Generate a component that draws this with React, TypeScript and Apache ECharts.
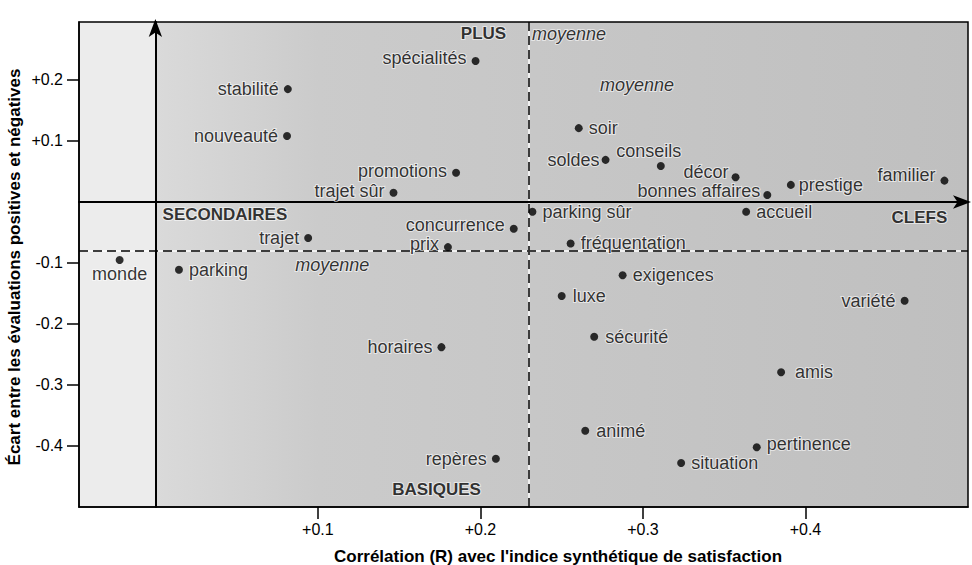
import React, { useEffect, useRef } from "react";
import * as echarts from "echarts";

// ---------- data ----------
const pointNames = [
  "spécialités", "stabilité", "nouveauté", "promotions", "trajet sûr",
  "trajet", "prix", "concurrence", "monde", "parking",
  "horaires", "repères", "soir", "soldes", "conseils",
  "décor", "bonnes affaires", "prestige", "familier", "parking sûr",
  "accueil", "fréquentation", "exigences", "luxe", "variété",
  "sécurité", "amis", "animé", "pertinence", "situation",
];
const correlation = [
  0.197, 0.0815, 0.081, 0.185, 0.1465,
  0.094, 0.18, 0.2205, -0.022, 0.0145,
  0.176, 0.2095, 0.2605, 0.277, 0.311,
  0.357, 0.3765, 0.391, 0.4855, 0.232,
  0.3635, 0.2555, 0.2875, 0.25, 0.461,
  0.27, 0.385, 0.2645, 0.37, 0.3235,
];
const ecart = [
  0.231, 0.185, 0.108, 0.048, 0.015,
  -0.059, -0.074, -0.044, -0.095, -0.111,
  -0.238, -0.421, 0.121, 0.069, 0.059,
  0.0405, 0.0115, 0.028, 0.035, -0.016,
  -0.016, -0.068, -0.12, -0.154, -0.162,
  -0.221, -0.279, -0.375, -0.402, -0.428,
];

const xTicks = [0.1, 0.2, 0.3, 0.4];
const yTicks = [0.2, 0.1, -0.1, -0.2, -0.3, -0.4];

const X_MIN = -0.047;
const X_MAX = 0.5;
const Y_MIN = -0.5;
const Y_MAX = 0.295;

const meanCorrelation = 0.227;
const meanEcart = -0.083;

const annotationTexts = ["moyenne", "moyenne", "moyenne", "PLUS", "SECONDAIRES", "CLEFS", "BASIQUES"];
const annotationX = [0.2545, 0.2963, 0.1088, 0.2019, 0.0428, 0.4701, 0.173];
const annotationY = [0.2754, 0.1918, -0.1033, 0.2762, -0.0202, -0.0251, -0.472];

const xTitle = "Corrélation (R) avec l'indice synthétique de satisfaction";
const yTitle = "Écart entre les évaluations positives et négatives";

// ---------- styles ----------
const FONT = '"Liberation Sans", Arial, Helvetica, sans-serif';

type Place = { position: string; distance?: number; offset?: [number, number] };
const labelPlacement: Record<string, Place> = {
  "spécialités": { position: "left", offset: [0, -3] },
  "stabilité": { position: "left" },
  "nouveauté": { position: "left" },
  "promotions": { position: "left", offset: [0, -2] },
  "trajet sûr": { position: "left", offset: [0, -2] },
  "trajet": { position: "left" },
  "prix": { position: "left", offset: [0, -3] },
  "concurrence": { position: "left", offset: [0, -4] },
  "monde": { position: "bottom", distance: 1 },
  "parking": { position: "right", distance: 6 },
  "horaires": { position: "left" },
  "repères": { position: "left" },
  "soir": { position: "right", distance: 6 },
  "soldes": { position: "left", distance: 2 },
  "conseils": { position: "top", distance: 2, offset: [-12, 0] },
  "décor": { position: "left", distance: 3, offset: [0, -5] },
  "bonnes affaires": { position: "left", distance: 3, offset: [0, -4] },
  "prestige": { position: "right", distance: 4 },
  "familier": { position: "left", offset: [0, -6] },
  "parking sûr": { position: "right", distance: 6 },
  "accueil": { position: "right", distance: 6 },
  "fréquentation": { position: "right", distance: 6 },
  "exigences": { position: "right", distance: 6 },
  "luxe": { position: "right", distance: 7 },
  "variété": { position: "left" },
  "sécurité": { position: "right", distance: 7 },
  "amis": { position: "right", distance: 10 },
  "animé": { position: "right", distance: 7 },
  "pertinence": { position: "right", distance: 6, offset: [0, -3] },
  "situation": { position: "right", distance: 6 },
};

const fmt = (v: number) => (v > 0 ? "+" : "") + v.toFixed(1);

export default function App() {
  const ref = useRef<HTMLDivElement>(null);

  useEffect(() => {
    document.body.style.margin = "0";
    const chart = echarts.init(ref.current as HTMLDivElement, null, { renderer: "svg" });

    const halo = { textBorderColor: "rgba(255,255,255,0.7)", textBorderWidth: 2 };

    const pointData = pointNames.map((n, i) => {
      const p = labelPlacement[n] || { position: "right" };
      return {
        name: n,
        value: [correlation[i], ecart[i]],
        label: {
          position: p.position,
          distance: p.distance ?? 5,
          offset: p.offset ?? [0, 0],
        },
      };
    });

    const annotationData = annotationTexts.map((t, i) => ({
      name: t,
      value: [annotationX[i], annotationY[i]],
      label: t === "moyenne"
        ? { fontStyle: "italic", fontWeight: "normal", fontSize: 18 }
        : { fontStyle: "normal", fontWeight: "bold", fontSize: 17 },
    }));

    const mainGradient = {
      type: "linear", x: 0, y: 0, x2: 1, y2: 0,
      colorStops: [
        { offset: 0, color: "#dadada" },
        { offset: 0.2, color: "#cbcbcb" },
        { offset: 1, color: "#bfbfbf" },
      ],
    };

    const axisBase = (min: number, max: number) => ({
      type: "value", min, max, splitLine: { show: false },
    });

    const arrowLine = {
      show: true, onZero: true, onZeroAxisIndex: 0,
      symbol: ["none", "arrow"], symbolSize: [10, 18], symbolOffset: [0, 3],
      lineStyle: { color: "#000", width: 2 },
    };

    const option: any = {
      animation: false,
      backgroundColor: "#ffffff",
      textStyle: { fontFamily: FONT },
      grid: {
        left: 79, right: 4, top: 22, bottom: 58,
        show: true, borderColor: "#000", borderWidth: 1.5,
        backgroundColor: "transparent", z: 6,
        containLabel: false, outerBoundsMode: "none",
      },
      xAxis: [
        {
          ...axisBase(X_MIN, X_MAX), position: "bottom", z: 6,
          axisLine: { show: true, onZero: false, lineStyle: { color: "#000", width: 1.5 } },
          axisTick: { show: true, length: 12, inside: false, customValues: xTicks, lineStyle: { color: "#000", width: 1.5 } },
          axisLabel: { show: true, customValues: xTicks, formatter: fmt, color: "#000", fontSize: 16, margin: 14, fontFamily: FONT },
        },
        {
          ...axisBase(X_MIN, X_MAX), position: "bottom", z: 7,
          axisLine: arrowLine,
          axisTick: { show: false }, axisLabel: { show: false },
        },
      ],
      yAxis: [
        {
          ...axisBase(Y_MIN, Y_MAX), position: "left", z: 6,
          axisLine: { show: true, onZero: false, lineStyle: { color: "#000", width: 1.5 } },
          axisTick: { show: true, length: 12, inside: false, customValues: yTicks, lineStyle: { color: "#000", width: 1.5 } },
          axisLabel: { show: true, customValues: yTicks, formatter: fmt, color: "#000", fontSize: 16, margin: 16, fontFamily: FONT },
        },
        {
          ...axisBase(Y_MIN, Y_MAX), position: "left", z: 7,
          axisLine: arrowLine,
          axisTick: { show: false }, axisLabel: { show: false },
        },
      ],
      series: [
        {
          type: "scatter",
          name: "annotations",
          xAxisIndex: 0, yAxisIndex: 0,
          silent: true,
          z: 3,
          symbolSize: 0,
          itemStyle: { color: "transparent" },
          data: annotationData,
          label: {
            show: true, position: "inside", formatter: "{b}",
            color: "#000", fontFamily: FONT, ...halo,
          },
          markArea: {
            silent: true,
            data: [
              [{ xAxis: X_MIN, itemStyle: { color: "#ececec" } }, { xAxis: 0 }],
              [{ xAxis: 0, itemStyle: { color: mainGradient } }, { xAxis: X_MAX }],
            ],
          },
          markLine: {
            silent: true,
            symbol: ["none", "none"],
            label: { show: false },
            data: [
              { xAxis: meanCorrelation, lineStyle: { color: "#ffffff", width: 1.5, type: "solid" } },
              { xAxis: meanCorrelation, lineStyle: { color: "#000000", width: 1.5, type: [9, 5] } },
              { yAxis: meanEcart, lineStyle: { color: "#ffffff", width: 1.5, type: "solid" } },
              { yAxis: meanEcart, lineStyle: { color: "#000000", width: 1.5, type: [9, 5] } },
            ],
          },
        },
        {
          type: "scatter",
          name: "items",
          xAxisIndex: 0, yAxisIndex: 0,
          z: 8,
          symbol: "circle",
          symbolSize: 8,
          itemStyle: { color: "#000" },
          data: pointData,
          label: {
            show: true, formatter: "{b}", color: "#000",
            fontSize: 18, fontFamily: FONT, ...halo,
          },
        },
      ],
      graphic: [
        {
          type: "text", x: 558, y: 556, z: 10,
          style: {
            text: xTitle, fontSize: 17, fontWeight: "bold", fontFamily: FONT,
            fill: "#000", align: "center", verticalAlign: "middle",
          },
        },
        {
          type: "text", x: 14, y: 267, rotation: Math.PI / 2, z: 10,
          style: {
            text: yTitle, fontSize: 17, fontWeight: "bold", fontFamily: FONT,
            fill: "#000", align: "center", verticalAlign: "middle",
          },
        },
      ],
    };

    chart.setOption(option);
    return () => chart.dispose();
  }, []);

  return (
    <div
      ref={ref}
      style={{ position: "fixed", left: 0, top: 0, width: 972, height: 565, background: "#fff" }}
    />
  );
}
